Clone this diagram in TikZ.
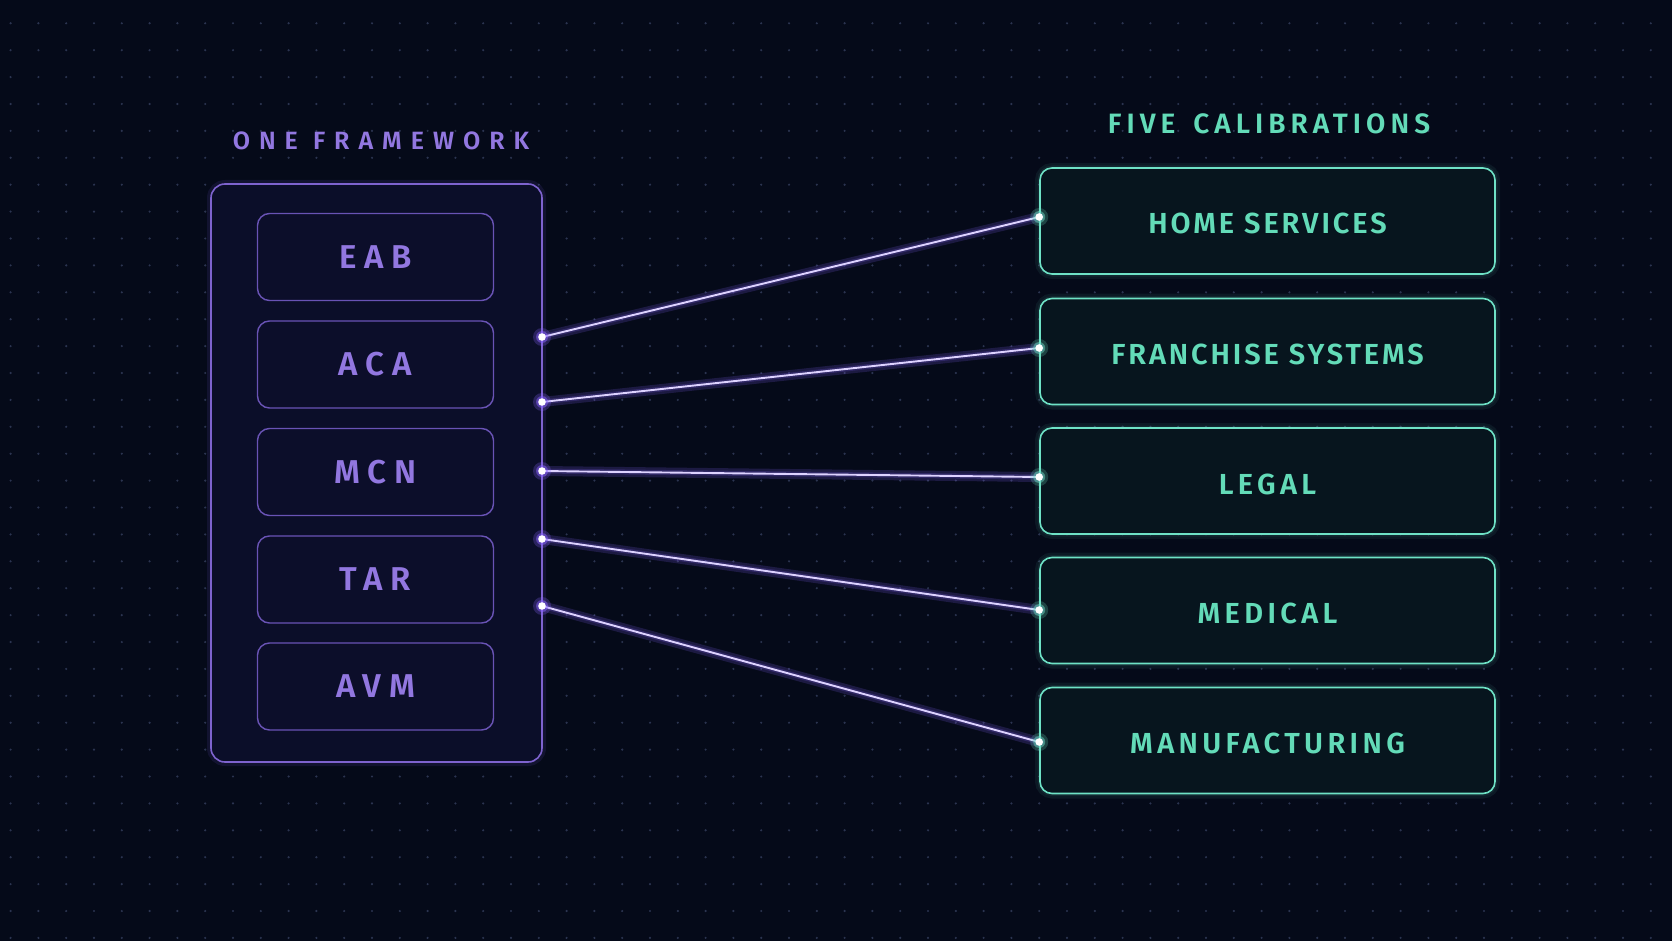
\documentclass[tikz,border=0pt]{standalone}
\usepackage{fontspec}
\setmainfont{Fira Sans}
\newfontfamily\lblfont[LetterSpace=15, BoldFont={Fira Sans SemiBold}]{Fira Sans}
\newfontfamily\lblfontn[LetterSpace=10, BoldFont={Fira Sans SemiBold}]{Fira Sans}
\newfontfamily\modfont[LetterSpace=24, BoldFont={Fira Sans SemiBold}]{Fira Sans}
\newfontfamily\ttlfont[LetterSpace=36, BoldFont={Fira Sans SemiBold}]{Fira Sans}
\newfontfamily\ttlfontb[LetterSpace=18, BoldFont={Fira Sans SemiBold}]{Fira Sans}
\usetikzlibrary{calc}
\definecolor{bg}{HTML}{050A19}
\definecolor{griddot}{HTML}{2B3450}
\definecolor{purp}{HTML}{9277E0}
\definecolor{purpline}{HTML}{7E63CF}
\definecolor{purpinner}{HTML}{6953B5}
\definecolor{purpfill}{HTML}{0B0E29}
\definecolor{purpfillb}{HTML}{0C0E2A}
\definecolor{teal}{HTML}{63DBB8}
\definecolor{tealline}{HTML}{6EE2C6}
\definecolor{tealfill}{HTML}{07151E}
\definecolor{wire}{HTML}{DDD2FF}
\definecolor{wireglow}{HTML}{8A63FF}
\tikzset{
  bigbox/.style={draw=purpline, line width=1.6pt, fill=purpfill, rounded corners=14pt},
  modbox/.style={draw=purpinner, line width=1.4pt, fill=purpfillb, rounded corners=12pt,
    minimum width=236pt, minimum height=87pt, inner sep=0pt,
    text=purp, font=\modfont\bfseries\fontsize{33}{33}\selectfont},
  calbox/.style={draw=tealline, line width=1.6pt, fill=tealfill, rounded corners=12pt,
    minimum width=455pt, minimum height=106pt, inner sep=0pt, text height=26pt, text depth=0pt,
    text=teal, font=\lblfont\bfseries\fontsize{29}{29}\selectfont},
  calboxn/.style={calbox, font=\lblfontn\bfseries\fontsize{29}{29}\selectfont},
  glowp/.style={draw=wireglow, line width=#1, opacity=0.18, line cap=round},
  glowt/.style={draw=tealline, line width=#1, opacity=0.07, rounded corners=12pt},
  wireln/.style={draw=wire, line width=1.9pt},
  ttl/.style={inner sep=0pt, anchor=base},
}
\begin{document}
\begin{tikzpicture}[x=1pt,y=-1pt]
\fill[bg] (0,0) rectangle (1672,941);
\useasboundingbox (0,0) rectangle (1672,941);
% dot grid
\foreach \i in {0,...,59}{
  \foreach \j in {0,...,34}{
    \fill[griddot] ({10.6+27.8*\i},{23.3+26.9*\j}) circle (1.2pt);
  }
}
% titles
\node[ttl, text=purp, font=\ttlfont\bfseries\fontsize{25}{25}\selectfont] (t1) at (381,150) {ONE FRAMEWORK};
\node[ttl, text=teal, font=\ttlfontb\bfseries\fontsize{28}{28}\selectfont] (t2) at (1269,134) {FIVE\hspace{6pt} CALIBRATIONS};
% left container
\draw[draw=wireglow, opacity=0.10, line width=8pt, rounded corners=14pt] (211,184) rectangle (542,762);
\path[bigbox] (211,184) rectangle (542,762);
% modules
\node[modbox] (eab) at (375.5,257) {EAB};
\node[modbox] (aca) at (375.5,364.5) {ACA};
\node[modbox] (mcn) at (375.5,472) {MCN};
\node[modbox] (tar) at (375.5,579.5) {TAR};
\node[modbox] (avm) at (375.5,686.5) {AVM};
% calibration boxes
\foreach \y in {221,351.5,481,610.5,740.5}{
  \draw[glowt=10pt] ($(1267.5,\y)+(-227.5,-53)$) rectangle ($(1267.5,\y)+(227.5,53)$);
  \draw[glowt=5pt] ($(1267.5,\y)+(-227.5,-53)$) rectangle ($(1267.5,\y)+(227.5,53)$);
}
\node[calboxn] (home) at (1267.5,221) {HOME SERVICES};
\node[calboxn] (fran) at (1267.5,351.5) {FRANCHISE SYSTEMS};
\node[calbox] (legal) at (1267.5,481) {LEGAL};
\node[calbox] (med) at (1267.5,610.5) {MEDICAL};
\node[calbox] (manu) at (1267.5,740.5) {MANUFACTURING};
% connection points
\coordinate (l1) at (542,337);
\coordinate (l2) at (542,402);
\coordinate (l3) at (542,471);
\coordinate (l4) at (542,539);
\coordinate (l5) at (542,606);
\coordinate (r1) at (home.west |- 0,217);
\coordinate (r2) at (fran.west |- 0,348);
\coordinate (r3) at (legal.west |- 0,477);
\coordinate (r4) at (med.west |- 0,610);
\coordinate (r5) at (manu.west |- 0,742);
% wires
\foreach \a/\b in {l1/r1,l2/r2,l3/r3,l4/r4,l5/r5}{
  \draw[glowp=10pt] (\a) -- (\b);
  \draw[glowp=5pt] (\a) -- (\b);
  \draw[wireln] (\a) -- (\b);
}
% endpoint dots
\foreach \p in {l1,l2,l3,l4,l5}{
  \fill[wireglow, opacity=0.25] (\p) circle (9pt);
  \fill[wireglow, opacity=0.45] (\p) circle (6pt);
  \fill[white] (\p) circle (3.8pt);
}
\foreach \p in {r1,r2,r3,r4,r5}{
  \fill[tealline, opacity=0.22] (\p) circle (9pt);
  \fill[tealline, opacity=0.45] (\p) circle (6pt);
  \fill[white] (\p) circle (3.8pt);
}
\end{tikzpicture}
\end{document}
